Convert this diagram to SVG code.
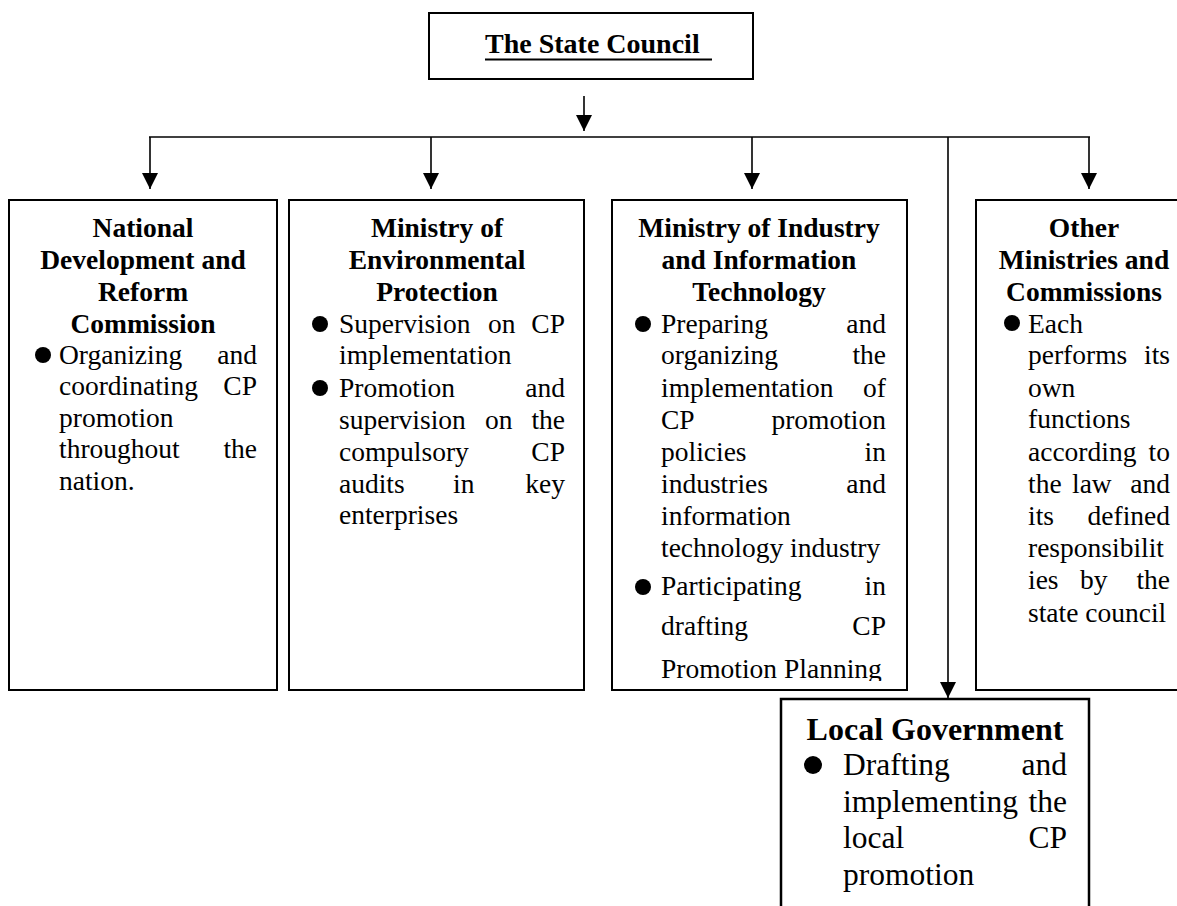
<svg xmlns="http://www.w3.org/2000/svg" width="1177" height="906" viewBox="0 0 1177 906">
  <style>
    .box { fill: #fff; stroke: #000; stroke-width: 2; }
    .conn { stroke: #000; stroke-width: 1.6; fill: none; }
    .hd { font-family: "Liberation Serif", "Times New Roman", serif; font-weight: bold; font-size: 27.5px; text-anchor: middle; fill: #000; }
    .tx { font-family: "Liberation Serif", "Times New Roman", serif; font-size: 27.5px; fill: #000; }
    .r { text-anchor: end; }
    .lg { font-size: 31.5px; }
    .lgh { font-size: 32px; }
    .dot { fill: #000; }
  </style>
  <defs>
    <marker id="arr" markerUnits="userSpaceOnUse" markerWidth="16" markerHeight="16" viewBox="0 0 16 16" refX="16" refY="8" orient="auto">
      <path d="M0,0 L16,8 L0,16 z" fill="#000"/>
    </marker>
    <clipPath id="clip3">
      <rect x="612" y="200" width="295" height="481"/>
    </clipPath>
  </defs>
  <rect width="1177" height="906" fill="#fff"/>

  <g id="connectors">
    <line class="conn" x1="584" y1="96" x2="584" y2="131" marker-end="url(#arr)"/>
    <line class="conn" x1="149" y1="137" x2="1090" y2="137"/>
    <line class="conn" x1="150" y1="137" x2="150" y2="189" marker-end="url(#arr)"/>
    <line class="conn" x1="431" y1="137" x2="431" y2="189" marker-end="url(#arr)"/>
    <line class="conn" x1="752" y1="137" x2="752" y2="189" marker-end="url(#arr)"/>
    <line class="conn" x1="1089" y1="137" x2="1089" y2="189" marker-end="url(#arr)"/>
    <line class="conn" x1="948" y1="137" x2="948" y2="698" marker-end="url(#arr)"/>
  </g>

  <g id="state-council">
    <rect class="box" x="429" y="13" width="324" height="66"/>
    <text class="hd" x="485" y="53" style="text-anchor:start;font-size:28px">The State Council</text>
    <line x1="485" y1="59.5" x2="712" y2="59.5" stroke="#000" stroke-width="2"/>
  </g>

  <g id="ndrc">
    <rect class="box" x="9" y="200" width="268" height="490"/>
    <text class="hd" x="143" y="237">National</text>
    <text class="hd" x="143" y="269">Development and</text>
    <text class="hd" x="143" y="301">Reform</text>
    <text class="hd" x="143" y="333">Commission</text>
    <circle class="dot" cx="43" cy="355" r="8"/>
    <text class="tx" x="59" y="364">Organizing</text><text class="tx r" x="257" y="364">and</text>
    <text class="tx" x="59" y="395">coordinating</text><text class="tx r" x="257" y="395">CP</text>
    <text class="tx" x="59" y="427">promotion</text>
    <text class="tx" x="59" y="458">throughout</text><text class="tx r" x="257" y="458">the</text>
    <text class="tx" x="59" y="490">nation.</text>
  </g>

  <g id="mep">
    <rect class="box" x="289" y="200" width="295" height="490"/>
    <text class="hd" x="437" y="237">Ministry of</text>
    <text class="hd" x="437" y="269">Environmental</text>
    <text class="hd" x="437" y="301">Protection</text>
    <circle class="dot" cx="320" cy="324" r="8"/>
    <text class="tx" x="339" y="333">Supervision</text><text class="tx" x="488" y="333">on</text><text class="tx r" x="565" y="333">CP</text>
    <text class="tx" x="339" y="364">implementation</text>
    <circle class="dot" cx="320" cy="388" r="8"/>
    <text class="tx" x="339" y="397">Promotion</text><text class="tx r" x="565" y="397">and</text>
    <text class="tx" x="339" y="429">supervision</text><text class="tx" x="485" y="429">on</text><text class="tx r" x="565" y="429">the</text>
    <text class="tx" x="339" y="461">compulsory</text><text class="tx r" x="565" y="461">CP</text>
    <text class="tx" x="339" y="493">audits</text><text class="tx" x="453" y="493">in</text><text class="tx r" x="565" y="493">key</text>
    <text class="tx" x="339" y="524">enterprises</text>
  </g>

  <g id="miit">
    <rect class="box" x="612" y="200" width="295" height="490"/>
    <text class="hd" x="759" y="237">Ministry of Industry</text>
    <text class="hd" x="759" y="269">and Information</text>
    <text class="hd" x="759" y="301">Technology</text>
    <circle class="dot" cx="643" cy="324" r="8"/>
    <text class="tx" x="661" y="333">Preparing</text><text class="tx r" x="886" y="333">and</text>
    <text class="tx" x="661" y="364">organizing</text><text class="tx r" x="886" y="364">the</text>
    <text class="tx" x="661" y="397">implementation</text><text class="tx r" x="886" y="397">of</text>
    <text class="tx" x="661" y="429">CP</text><text class="tx r" x="886" y="429">promotion</text>
    <text class="tx" x="661" y="461">policies</text><text class="tx r" x="886" y="461">in</text>
    <text class="tx" x="661" y="493">industries</text><text class="tx r" x="886" y="493">and</text>
    <text class="tx" x="661" y="525">information</text>
    <text class="tx" x="661" y="557">technology industry</text>
    <circle class="dot" cx="643" cy="587" r="8"/>
    <text class="tx" x="661" y="595">Participating</text><text class="tx r" x="886" y="595">in</text>
    <text class="tx" x="661" y="635">drafting</text><text class="tx r" x="886" y="635">CP</text>
    <g clip-path="url(#clip3)">
      <text class="tx" x="661" y="678">Promotion Planning</text>
    </g>
  </g>

  <g id="other-ministries">
    <rect class="box" x="976" y="200" width="220" height="490"/>
    <text class="hd" x="1084" y="237">Other</text>
    <text class="hd" x="1084" y="269">Ministries and</text>
    <text class="hd" x="1084" y="301">Commissions</text>
    <circle class="dot" cx="1012" cy="323" r="8"/>
    <text class="tx" x="1028" y="333">Each</text>
    <text class="tx" x="1028" y="364">performs</text><text class="tx r" x="1170" y="364">its</text>
    <text class="tx" x="1028" y="397">own</text>
    <text class="tx" x="1028" y="428">functions</text>
    <text class="tx" x="1028" y="461">according</text><text class="tx r" x="1170" y="461">to</text>
    <text class="tx" x="1028" y="493">the</text><text class="tx" x="1072" y="493">law</text><text class="tx r" x="1170" y="493">and</text>
    <text class="tx" x="1028" y="525">its</text><text class="tx r" x="1170" y="525">defined</text>
    <text class="tx" x="1028" y="557">responsibilit</text>
    <text class="tx" x="1028" y="589">ies</text><text class="tx" x="1080" y="589">by</text><text class="tx r" x="1170" y="589">the</text>
    <text class="tx" x="1028" y="622">state council</text>
  </g>

  <g id="local-government">
    <rect class="box" x="781" y="699" width="308" height="230" style="stroke-width:2.5"/>
    <text class="hd lgh" x="935" y="740">Local Government</text>
    <circle class="dot" cx="813" cy="765" r="9"/>
    <text class="tx lg" x="843" y="775">Drafting</text><text class="tx lg r" x="1067" y="775">and</text>
    <text class="tx lg" x="843" y="812">implementing</text><text class="tx lg r" x="1067" y="812">the</text>
    <text class="tx lg" x="843" y="848">local</text><text class="tx lg r" x="1067" y="848">CP</text>
    <text class="tx lg" x="843" y="885">promotion</text>
  </g>
</svg>
